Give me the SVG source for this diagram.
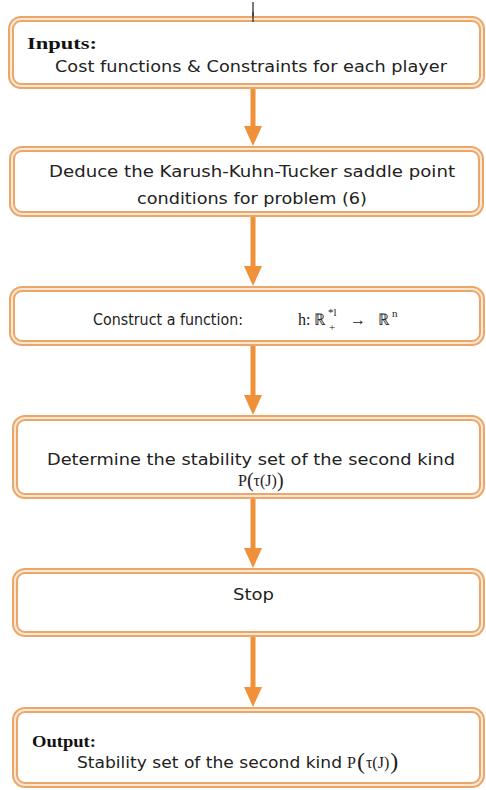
<svg xmlns="http://www.w3.org/2000/svg" width="486" height="790" viewBox="0 0 486 790">
<style>
.box-o{fill:#fff;stroke:#eba66a;stroke-width:6}
.box-i{fill:none;stroke:#fde7d3;stroke-width:2}
.t{font-family:"DejaVu Sans","Verdana",sans-serif;font-size:15.5px;fill:#222}
.c{text-anchor:middle}
.b{font-family:"Liberation Serif","Times New Roman",serif;font-weight:bold;font-size:17px;fill:#111}
.m{font-family:"Liberation Serif","Times New Roman",serif;font-size:16px;fill:#222}
.s{font-family:"Liberation Serif","Times New Roman",serif;font-size:11px;fill:#222}
.arr{stroke:#f0913a;stroke-width:5;fill:none}
</style>
<defs>
<marker id="ah" viewBox="0 0 20 18" refX="0" refY="9" markerWidth="20" markerHeight="18" markerUnits="userSpaceOnUse" orient="auto">
<path d="M0,0 L20,9 L0,18 z" fill="#f0913a"/>
</marker>
</defs>
<rect width="486" height="790" fill="#fff"/>
<g id="connectors">
<line x1="253" y1="2" x2="253" y2="22" stroke="#222" stroke-width="1.2"/>
<line class="arr" x1="253" y1="89" x2="253" y2="126" marker-end="url(#ah)"/>
<line class="arr" x1="253" y1="217" x2="253" y2="266" marker-end="url(#ah)"/>
<line class="arr" x1="253" y1="346" x2="253" y2="395" marker-end="url(#ah)"/>
<line class="arr" x1="253" y1="499" x2="253" y2="548" marker-end="url(#ah)"/>
<line class="arr" x1="253" y1="637" x2="253" y2="687" marker-end="url(#ah)"/>
</g>
<g id="inputs">
<rect class="box-o" x="11" y="19" width="471" height="67" rx="10"/>
<rect class="box-i" x="11" y="19" width="471" height="67" rx="10"/>
<line x1="253" y1="12" x2="253" y2="22" stroke="#222" stroke-width="1.2"/>
<text class="b" x="27" y="49" textLength="70" lengthAdjust="spacingAndGlyphs">Inputs:</text>
<text class="t" x="55" y="72" textLength="392" lengthAdjust="spacingAndGlyphs">Cost functions &amp; Constraints for each player</text>
</g>
<g id="kkt">
<rect class="box-o" x="12" y="149" width="469" height="65" rx="10"/>
<rect class="box-i" x="12" y="149" width="469" height="65" rx="10"/>
<text class="t" x="49" y="177" textLength="406" lengthAdjust="spacingAndGlyphs">Deduce the Karush-Kuhn-Tucker saddle point</text>
<text class="t" x="137" y="204" textLength="230" lengthAdjust="spacingAndGlyphs">conditions for problem (6)</text>
</g>
<g id="construct">
<rect class="box-o" x="12" y="289" width="470" height="54" rx="10"/>
<rect class="box-i" x="12" y="289" width="470" height="54" rx="10"/>
<text class="t" x="93" y="325" font-size="14" textLength="150" lengthAdjust="spacingAndGlyphs">Construct a function:</text>
<text class="m" x="298" y="325" font-size="17">h:</text>
<text class="m" x="314" y="325" font-size="18">ℝ</text>
<text class="s" x="328" y="316">*l</text>
<text class="s" x="329" y="331">+</text>
<text class="m" x="350" y="325" font-size="18">→</text>
<text class="m" x="378" y="325" font-size="18">ℝ</text>
<text class="s" x="392" y="317">n</text>
</g>
<g id="determine">
<rect class="box-o" x="15" y="418" width="467" height="78" rx="10"/>
<rect class="box-i" x="15" y="418" width="467" height="78" rx="10"/>
<text class="t" x="47" y="465" textLength="408" lengthAdjust="spacingAndGlyphs">Determine the stability set of the second kind</text>
<text class="m" x="238" y="486">P<tspan font-size="20" dy="1">(</tspan><tspan dy="-1">τ(J)</tspan><tspan font-size="20" dy="1">)</tspan></text>
</g>
<g id="stop">
<rect class="box-o" x="15" y="571" width="467" height="63" rx="10"/>
<rect class="box-i" x="15" y="571" width="467" height="63" rx="10"/>
<text class="t" x="233" y="600" font-size="17" textLength="41" lengthAdjust="spacingAndGlyphs">Stop</text>
</g>
<g id="output">
<rect class="box-o" x="15" y="710" width="467" height="75" rx="10"/>
<rect class="box-i" x="15" y="710" width="467" height="75" rx="10"/>
<text class="b" x="32" y="747" textLength="64" lengthAdjust="spacingAndGlyphs">Output:</text>
<text class="t" x="77" y="768" textLength="265" lengthAdjust="spacingAndGlyphs">Stability set of the second kind</text>
<text class="m" x="347" y="768" font-size="18">P<tspan font-size="24" dy="1" dx="1">(</tspan><tspan dy="-1" dx="1">τ(J)</tspan><tspan font-size="24" dy="1" dx="1">)</tspan></text>
</g>
</svg>
